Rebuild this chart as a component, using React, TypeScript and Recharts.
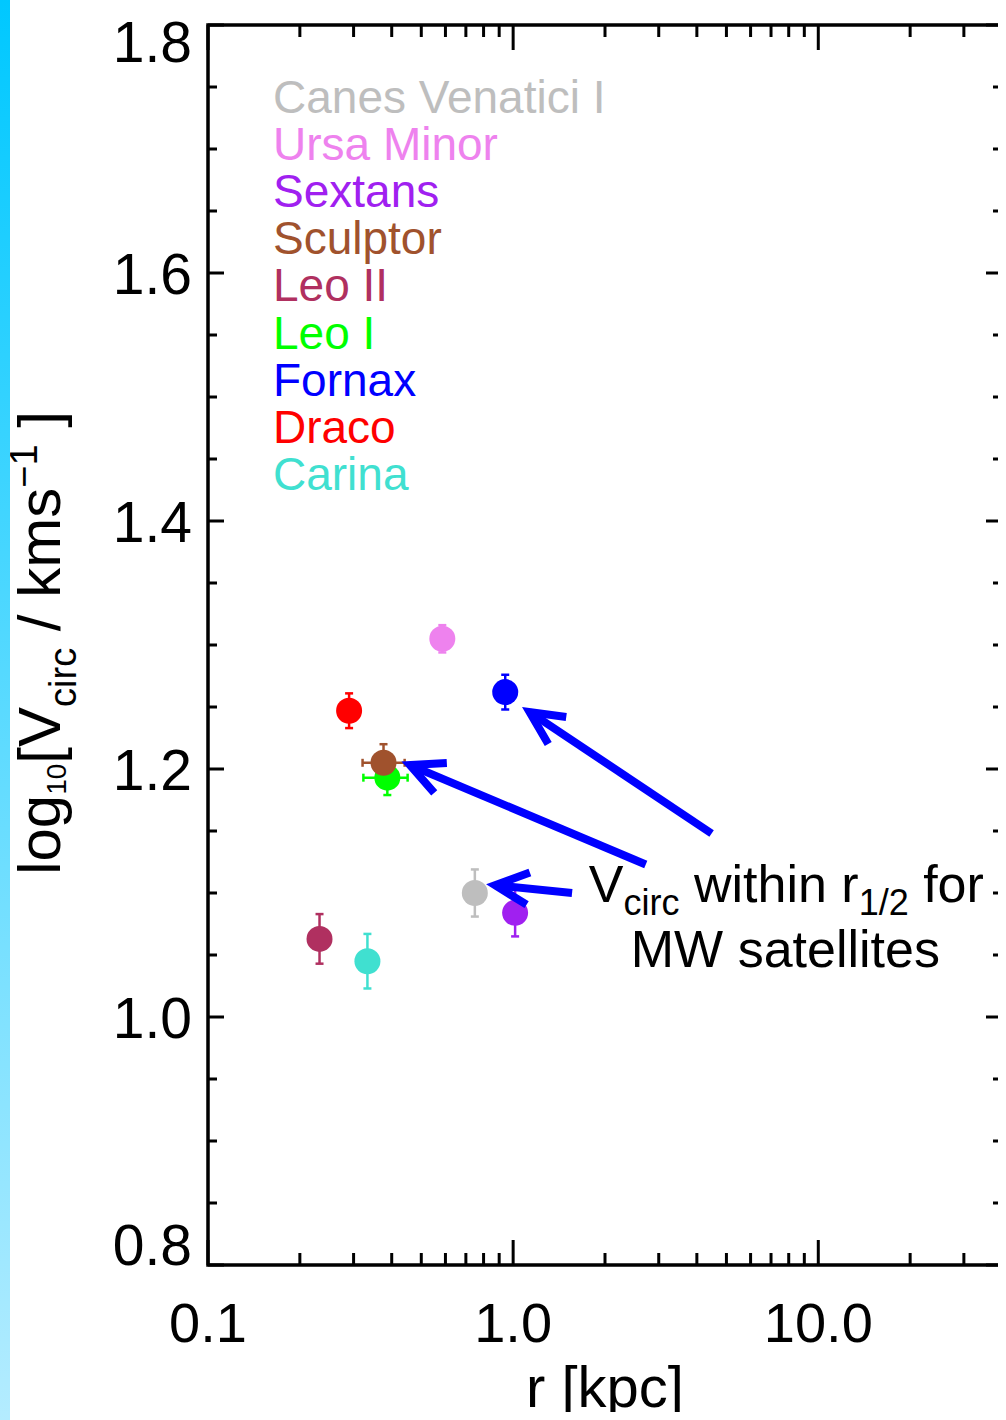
import React from 'react'
import {
  ScatterChart, Scatter, XAxis, YAxis, ErrorBar, ReferenceArea, ReferenceLine, ReferenceDot, Legend,
} from 'recharts'

// MW dwarf satellites, legend order
const names = ['Canes Venatici I', 'Ursa Minor', 'Sextans', 'Sculptor', 'Leo II', 'Leo I', 'Fornax', 'Draco', 'Carina']
const colors = ['#bebebe', '#ee82ee', '#a020f0', '#a0522d', '#b03060', '#00ff00', '#0000ff', '#ff0000', '#40e0d0']
const rHalf = [0.749, 0.586, 1.015, 0.376, 0.232, 0.387, 0.942, 0.290, 0.333] // kpc
const logV = [1.100, 1.305, 1.084, 1.205, 1.063, 1.193, 1.262, 1.247, 1.045]
const logVErr = [0.019, 0.011, 0.019, 0.015, 0.020, 0.014, 0.014, 0.014, 0.022]
const rErr: ([number, number] | null)[] = [null, null, null, [0.055, 0.065], null, [0.064, 0.064], null, null, null]
// Sculptor sits on top of Leo I
const drawOrder = [0, 1, 2, 4, 5, 3, 6, 7, 8]

const xMajor = [0.1, 1, 10]
const xMajorLabels = ['0.1', '1.0', '10.0']
const xMinor = [0.2, 0.3, 0.4, 0.5, 0.6, 0.7, 0.8, 0.9, 2, 3, 4, 5, 6, 7, 8, 9, 20, 30]
const yMajor = [0.8, 1.0, 1.2, 1.4, 1.6, 1.8]
const yMajorLabels = ['0.8', '1.0', '1.2', '1.4', '1.6', '1.8']
const yMinor = [0.85, 0.9, 0.95, 1.05, 1.1, 1.15, 1.25, 1.3, 1.35, 1.45, 1.5, 1.55, 1.65, 1.7, 1.75]

// annotation arrows, [r, logV] of tail and tip
const arrowTails = [[4.47, 1.148], [2.72, 1.123], [1.56, 1.100]]
const arrowTips = [[1.07, 1.250], [0.431, 1.206], [0.816, 1.107]]
const noteAt = [1.77, 1.093]

const W = 1006
const H = 1420
const PLOT_LEFT = 208
const PLOT_TOP = 25
const PLOT_RIGHT = 1002
const PLOT_BOTTOM = 1265
const Y_AXIS_W = 100
const X_AXIS_H = 60
const FONT = '"Liberation Sans", Arial, Helvetica, sans-serif'

const xTicks = [...xMajor, ...xMinor].sort((a, b) => a - b)
const yTicks = [...yMajor, ...yMinor].sort((a, b) => a - b)

function XTick(props: any) {
  const { x, y, payload } = props
  const i = xMajor.indexOf(payload.value)
  const len = i >= 0 ? 25 : 12
  return (
    <g>
      <line x1={x} y1={y} x2={x} y2={y - len} stroke="#000" strokeWidth={3} />
      <line x1={x} y1={PLOT_TOP} x2={x} y2={PLOT_TOP + len} stroke="#000" strokeWidth={3} />
      {i >= 0 && (
        <text x={x} y={y + 77} textAnchor="middle" fontSize={56} fontFamily={FONT} fill="#000">
          {xMajorLabels[i]}
        </text>
      )}
    </g>
  )
}

function YTick(props: any) {
  const { x, y, payload } = props
  const i = yMajor.indexOf(payload.value)
  const len = i >= 0 ? 16 : 9
  let dy = 21
  if (i === yMajor.length - 1) dy = 37
  if (i === 0) dy = 0
  return (
    <g>
      <line x1={x} y1={y} x2={x + len} y2={y} stroke="#000" strokeWidth={3} />
      <line x1={PLOT_RIGHT} y1={y} x2={PLOT_RIGHT - len} y2={y} stroke="#000" strokeWidth={3} />
      {i >= 0 && (
        <text x={x - 16} y={y + dy} textAnchor="end" fontSize={57} fontFamily={FONT} fill="#000">
          {yMajorLabels[i]}
        </text>
      )}
    </g>
  )
}

function XLabel(props: any) {
  const vb = props.viewBox || {}
  const cx = (vb.x ?? PLOT_LEFT) + (vb.width ?? PLOT_RIGHT - PLOT_LEFT) / 2
  return (
    <text x={cx} y={PLOT_BOTTOM + 142} textAnchor="middle" fontSize={58} fontFamily={FONT} fill="#000">
      r [kpc]
    </text>
  )
}

function YLabel(props: any) {
  const vb = props.viewBox || {}
  const cy = (vb.y ?? PLOT_TOP) + (vb.height ?? PLOT_BOTTOM - PLOT_TOP) / 2 - 2
  const bx = 60
  return (
    <text x={bx} y={cy} transform={`rotate(-90 ${bx} ${cy})`} textAnchor="middle" fontSize={60} fontFamily={FONT} fill="#000">
      log<tspan fontSize={28} dy={6}>10</tspan>
      <tspan dy={-6}>[V</tspan>
      <tspan fontSize={38} dy={16}>circ</tspan>
      <tspan dy={-16}> / kms</tspan>
      <tspan fontSize={38} dy={-23}>−1</tspan>
      <tspan dy={23}> ]</tspan>
    </text>
  )
}

function NoteLabel(props: any) {
  const vb = props.viewBox || {}
  const x = vb.x ?? 0
  const y = vb.y ?? 0
  return (
    <g>
      <text x={x} y={y} fontSize={52} fontFamily={FONT} fill="#000">
        V<tspan fontSize={36} dy={13}>circ</tspan>
        <tspan dy={-13}> within r</tspan>
        <tspan fontSize={36} dy={13}>1/2</tspan>
        <tspan dy={-13}> for</tspan>
      </text>
      <text x={x + 42} y={y + 65} fontSize={52} fontFamily={FONT} fill="#000">
        MW satellites
      </text>
    </g>
  )
}

function ArrowShape(props: any) {
  const { x1, y1, x2, y2 } = props
  const ang = Math.atan2(y1 - y2, x1 - x2)
  const len = 37
  const spread = (26 * Math.PI) / 180
  // pull the vertex back so the mitred point lands on the tip
  const tx = x2 + 9 * Math.cos(ang)
  const ty = y2 + 9 * Math.sin(ang)
  const bx1 = tx + len * Math.cos(ang - spread)
  const by1 = ty + len * Math.sin(ang - spread)
  const bx2 = tx + len * Math.cos(ang + spread)
  const by2 = ty + len * Math.sin(ang + spread)
  return (
    <g>
      <path d={`M${x1},${y1}L${tx},${ty}`} stroke="#0000ff" strokeWidth={8} fill="none" />
      <path
        d={`M${bx1},${by1}L${tx},${ty}L${bx2},${by2}`}
        stroke="#0000ff"
        strokeWidth={8}
        fill="none"
        strokeLinejoin="miter"
        strokeMiterlimit={10}
      />
    </g>
  )
}

function LegendBox() {
  return (
    <svg width={420} height={450}>
      {names.map((n, i) => (
        <text key={n} x={0} y={53 + i * 47.1} fontSize={46} fontFamily={FONT} fill={colors[i]}>
          {n}
        </text>
      ))}
    </svg>
  )
}

export default function App() {
  return (
    <div style={{ position: 'relative', width: W, height: H, margin: -8, background: '#fff', overflow: 'hidden' }}>
      <ScatterChart
        width={W}
        height={H}
        margin={{ top: PLOT_TOP, right: W - PLOT_RIGHT, bottom: H - PLOT_BOTTOM - X_AXIS_H, left: PLOT_LEFT - Y_AXIS_W }}
      >
        <XAxis
          dataKey="r"
          type="number"
          scale="log"
          domain={[0.1, 40]}
          allowDataOverflow
          ticks={xTicks}
          interval={0}
          tickSize={0}
          tickMargin={0}
          axisLine={false}
          tickLine={false}
          tick={XTick}
          height={X_AXIS_H}
          label={XLabel}
        />
        <YAxis
          dataKey="v"
          type="number"
          domain={[0.8, 1.8]}
          allowDataOverflow
          ticks={yTicks}
          interval={0}
          tickSize={0}
          tickMargin={0}
          axisLine={false}
          tickLine={false}
          tick={YTick}
          width={Y_AXIS_W}
          label={YLabel}
        />
        <ReferenceArea x1={0.1} x2={40} y1={0.8} y2={1.8} fill="none" stroke="#000" strokeWidth={3.5} ifOverflow="visible" />
        {drawOrder.map((i) => (
          <Scatter
            key={names[i]}
            name={names[i]}
            data={[{ r: rHalf[i], v: logV[i], ev: logVErr[i], er: rErr[i] }]}
            fill={colors[i]}
            isAnimationActive={false}
            shape={(p: any) => <circle cx={p.cx} cy={p.cy} r={13} fill={colors[i]} />}
          >
            <ErrorBar dataKey="ev" direction="y" width={4} strokeWidth={2.5} stroke={colors[i]} />
            {rErr[i] && <ErrorBar dataKey="er" direction="x" width={4} strokeWidth={2.5} stroke={colors[i]} />}
          </Scatter>
        ))}
        {arrowTips.map((tip, k) => (
          <ReferenceLine
            key={k}
            segment={[{ x: arrowTails[k][0], y: arrowTails[k][1] }, { x: tip[0], y: tip[1] }]}
            stroke="#0000ff"
            strokeWidth={8}
            ifOverflow="visible"
            shape={ArrowShape}
            zIndex={700}
          />
        ))}
        <ReferenceDot x={noteAt[0]} y={noteAt[1]} r={0} fill="none" stroke="none" ifOverflow="visible" label={NoteLabel} />
        <Legend
          layout="vertical"
          align="center"
          verticalAlign="middle"
          wrapperStyle={{ left: 273, top: 60, width: 420, height: 450 }}
          content={LegendBox}
        />
      </ScatterChart>
      <div
        style={{
          position: 'fixed', left: 0, top: 0, width: 10, height: H, zIndex: 10,
          background: 'linear-gradient(to bottom, #00c8ff, #b4ecff)',
        }}
      />
    </div>
  )
}
